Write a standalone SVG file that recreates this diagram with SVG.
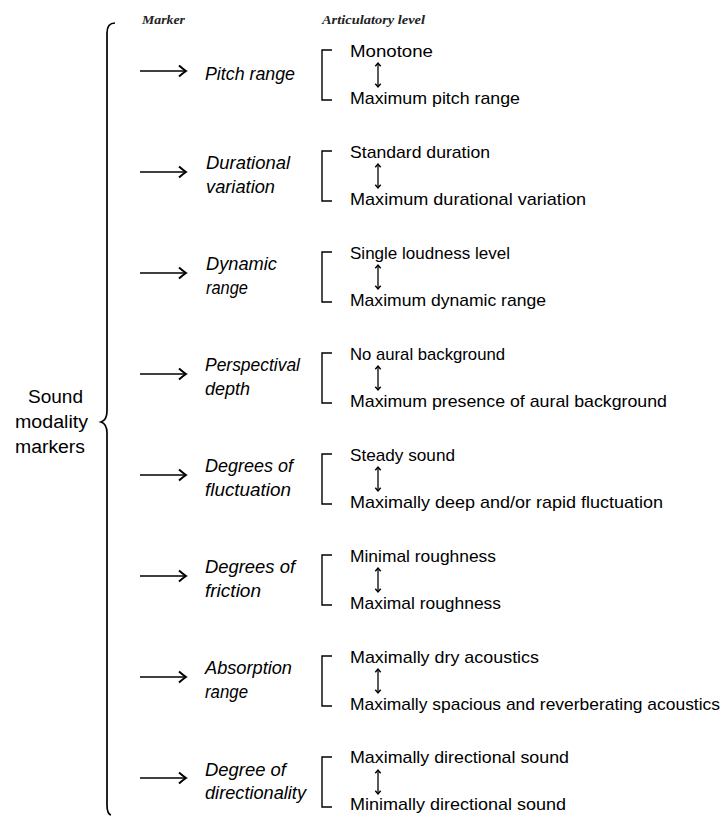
<svg xmlns="http://www.w3.org/2000/svg" width="725" height="816" viewBox="0 0 725 816">
<defs>
<marker id="ah" markerWidth="12" markerHeight="14" refX="9" refY="7" orient="auto" markerUnits="userSpaceOnUse">
<path d="M2,1.5 Q6,5 9,7 Q6,9 2,12.5" fill="none" stroke="#000" stroke-width="2"/>
</marker>
<marker id="sh" markerWidth="8" markerHeight="8" refX="4" refY="4" orient="auto" markerUnits="userSpaceOnUse">
<path d="M0.8,1.3 L4,4 L0.8,6.7" fill="none" stroke="#000" stroke-width="1.4"/>
</marker>
<marker id="shs" markerWidth="8" markerHeight="8" refX="4" refY="4" orient="auto-start-reverse" markerUnits="userSpaceOnUse">
<path d="M0.8,1.3 L4,4 L0.8,6.7" fill="none" stroke="#000" stroke-width="1.4"/>
</marker>
</defs>
<style>
.hd{font-family:"Liberation Serif",serif;font-style:italic;font-weight:bold;font-size:12.5px;fill:#222}
.lb{font-family:"Liberation Sans",Arial,sans-serif;font-style:italic;font-size:18px;fill:#000}
.tx{font-family:"Liberation Sans",Arial,sans-serif;font-size:17px;fill:#000}
.sm{font-family:"Liberation Sans",Arial,sans-serif;font-size:18px;fill:#000}
.ar{fill:none;stroke:#000;stroke-width:1.7}
.br{fill:none;stroke:#000;stroke-width:1.4}
.da{fill:none;stroke:#000;stroke-width:1.3}
</style>
<rect width="725" height="816" fill="#fff"/>
<g id="headers">
<text class="hd" x="142" y="24" textLength="43" lengthAdjust="spacingAndGlyphs">Marker</text>
<text class="hd" x="322" y="24" textLength="103" lengthAdjust="spacingAndGlyphs">Articulatory level</text>
</g>
<g id="root">
<text class="sm" x="28" y="403" textLength="55" lengthAdjust="spacingAndGlyphs">Sound</text>
<text class="sm" x="15" y="428" textLength="73" lengthAdjust="spacingAndGlyphs">modality</text>
<text class="sm" x="15" y="453" textLength="70" lengthAdjust="spacingAndGlyphs">markers</text>
</g>
<g id="connectors">
<path class="ar" d="M115,23 Q107,23 107,33 L107,411 Q107,420 101,422 Q107,424 107,433 L107,805 Q107,814 111,815" stroke-width="1.8"/>
<g class="ar">
<line x1="140" y1="71" x2="186" y2="71" marker-end="url(#ah)"/>
<line x1="140" y1="172" x2="186" y2="172" marker-end="url(#ah)"/>
<line x1="140" y1="273" x2="186" y2="273" marker-end="url(#ah)"/>
<line x1="140" y1="374" x2="186" y2="374" marker-end="url(#ah)"/>
<line x1="140" y1="475" x2="186" y2="475" marker-end="url(#ah)"/>
<line x1="140" y1="576" x2="186" y2="576" marker-end="url(#ah)"/>
<line x1="140" y1="677" x2="186" y2="677" marker-end="url(#ah)"/>
<line x1="140" y1="778" x2="186" y2="778" marker-end="url(#ah)"/>
</g>
</g>
<g id="pitch">
<text class="lb" x="205" y="80" textLength="90" lengthAdjust="spacingAndGlyphs">Pitch range</text>
<path class="br" d="M332,50 L322,50 L322,100 L332,100"/>
<text class="tx" x="350" y="57" textLength="83" lengthAdjust="spacingAndGlyphs">Monotone</text>
<line class="da" x1="378" y1="63" x2="378" y2="87" marker-start="url(#shs)" marker-end="url(#sh)"/>
<text class="tx" x="350" y="104" textLength="170" lengthAdjust="spacingAndGlyphs">Maximum pitch range</text>
</g>
<g id="durational">
<text class="lb" x="206" y="169" textLength="84" lengthAdjust="spacingAndGlyphs">Durational</text>
<text class="lb" x="206" y="193" textLength="69" lengthAdjust="spacingAndGlyphs">variation</text>
<path class="br" d="M332,151 L322,151 L322,201 L332,201"/>
<text class="tx" x="350" y="158" textLength="140" lengthAdjust="spacingAndGlyphs">Standard duration</text>
<line class="da" x1="378" y1="164" x2="378" y2="188" marker-start="url(#shs)" marker-end="url(#sh)"/>
<text class="tx" x="350" y="205" textLength="236" lengthAdjust="spacingAndGlyphs">Maximum durational variation</text>
</g>
<g id="dynamic">
<text class="lb" x="206" y="270" textLength="71" lengthAdjust="spacingAndGlyphs">Dynamic</text>
<text class="lb" x="206" y="294" textLength="42" lengthAdjust="spacingAndGlyphs">range</text>
<path class="br" d="M332,252 L322,252 L322,302 L332,302"/>
<text class="tx" x="350" y="259" textLength="160" lengthAdjust="spacingAndGlyphs">Single loudness level</text>
<line class="da" x1="378" y1="265" x2="378" y2="289" marker-start="url(#shs)" marker-end="url(#sh)"/>
<text class="tx" x="350" y="306" textLength="196" lengthAdjust="spacingAndGlyphs">Maximum dynamic range</text>
</g>
<g id="perspectival">
<text class="lb" x="205" y="371" textLength="95" lengthAdjust="spacingAndGlyphs">Perspectival</text>
<text class="lb" x="205" y="395" textLength="45" lengthAdjust="spacingAndGlyphs">depth</text>
<path class="br" d="M332,353 L322,353 L322,403 L332,403"/>
<text class="tx" x="350" y="360" textLength="155" lengthAdjust="spacingAndGlyphs">No aural background</text>
<line class="da" x1="378" y1="366" x2="378" y2="390" marker-start="url(#shs)" marker-end="url(#sh)"/>
<text class="tx" x="350" y="407" textLength="317" lengthAdjust="spacingAndGlyphs">Maximum presence of aural background</text>
</g>
<g id="fluctuation">
<text class="lb" x="205" y="472" textLength="88" lengthAdjust="spacingAndGlyphs">Degrees of</text>
<text class="lb" x="205" y="496" textLength="86" lengthAdjust="spacingAndGlyphs">fluctuation</text>
<path class="br" d="M332,454 L322,454 L322,504 L332,504"/>
<text class="tx" x="350" y="461" textLength="105" lengthAdjust="spacingAndGlyphs">Steady sound</text>
<line class="da" x1="378" y1="467" x2="378" y2="491" marker-start="url(#shs)" marker-end="url(#sh)"/>
<text class="tx" x="350" y="508" textLength="313" lengthAdjust="spacingAndGlyphs">Maximally deep and/or rapid fluctuation</text>
</g>
<g id="friction">
<text class="lb" x="205" y="573" textLength="90" lengthAdjust="spacingAndGlyphs">Degrees of</text>
<text class="lb" x="205" y="597" textLength="56" lengthAdjust="spacingAndGlyphs">friction</text>
<path class="br" d="M332,555 L322,555 L322,605 L332,605"/>
<text class="tx" x="350" y="562" textLength="146" lengthAdjust="spacingAndGlyphs">Minimal roughness</text>
<line class="da" x1="378" y1="568" x2="378" y2="592" marker-start="url(#shs)" marker-end="url(#sh)"/>
<text class="tx" x="350" y="609" textLength="151" lengthAdjust="spacingAndGlyphs">Maximal roughness</text>
</g>
<g id="absorption">
<text class="lb" x="205" y="674" textLength="87" lengthAdjust="spacingAndGlyphs">Absorption</text>
<text class="lb" x="205" y="698" textLength="43" lengthAdjust="spacingAndGlyphs">range</text>
<path class="br" d="M332,656 L322,656 L322,706 L332,706"/>
<text class="tx" x="350" y="663" textLength="189" lengthAdjust="spacingAndGlyphs">Maximally dry acoustics</text>
<line class="da" x1="378" y1="669" x2="378" y2="693" marker-start="url(#shs)" marker-end="url(#sh)"/>
<text class="tx" x="350" y="710" textLength="370" lengthAdjust="spacingAndGlyphs">Maximally spacious and reverberating acoustics</text>
</g>
<g id="directionality">
<text class="lb" x="205" y="776" textLength="81" lengthAdjust="spacingAndGlyphs">Degree of</text>
<text class="lb" x="205" y="799" textLength="101" lengthAdjust="spacingAndGlyphs">directionality</text>
<path class="br" d="M332,757 L322,757 L322,807 L332,807"/>
<text class="tx" x="350" y="763" textLength="219" lengthAdjust="spacingAndGlyphs">Maximally directional sound</text>
<line class="da" x1="378" y1="770" x2="378" y2="794" marker-start="url(#shs)" marker-end="url(#sh)"/>
<text class="tx" x="350" y="810" textLength="216" lengthAdjust="spacingAndGlyphs">Minimally directional sound</text>
</g>
</svg>
